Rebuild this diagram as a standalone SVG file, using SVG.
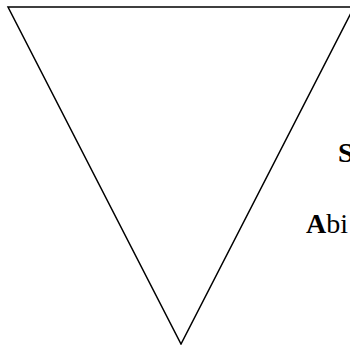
<svg xmlns="http://www.w3.org/2000/svg" width="350" height="345" viewBox="0 0 350 345">
<style>
.shape{fill:#fff;stroke:#000;stroke-width:1.5}
.t{font-family:"Liberation Serif","Times New Roman",serif;font-size:28px;fill:#000}
.b{font-weight:bold}
</style>
<rect width="350" height="345" fill="#fff"/>
<g id="triangle">
<polygon class="shape" points="8,7 354,7 181,344"/>
</g>
<g id="labels">
<text class="t b" x="338" y="162">S</text>
<text class="t" x="306" y="233"><tspan class="b">A</tspan>bi</text>
</g>
</svg>
